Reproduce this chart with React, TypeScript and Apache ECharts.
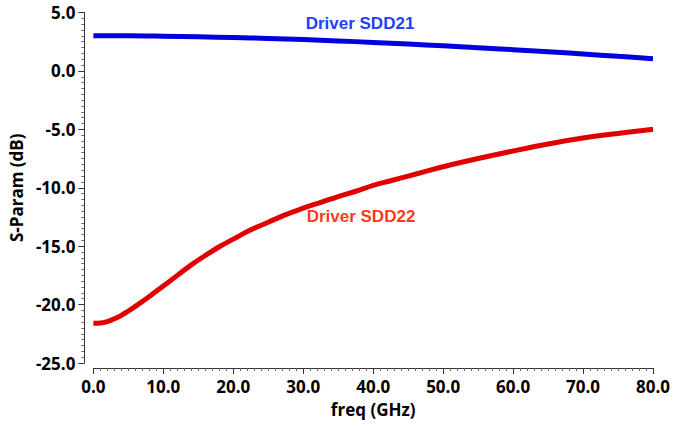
import React, { useEffect, useRef } from "react";
import * as echarts from "echarts";

// Frequency points (GHz) and S-parameter magnitudes (dB)
const freqSdd21 = [0, 5, 10, 15, 20, 25, 30, 35, 40, 45, 50, 55, 60, 65, 70, 75, 80];
const sdd21 = [3.0, 3.0, 2.97, 2.92, 2.86, 2.78, 2.68, 2.57, 2.44, 2.3, 2.15, 1.99, 1.82, 1.64, 1.45, 1.25, 1.05];

const freqSdd22 = [0, 1, 2, 3, 4, 5, 6, 8, 10, 12, 14, 16, 18, 20, 22.5, 25, 27.5, 30, 32.5, 35, 37.5, 40, 42.5, 45, 47.5, 50, 55, 60, 65, 70, 75, 80];
const sdd22 = [-21.6, -21.58, -21.45, -21.22, -20.92, -20.55, -20.15, -19.3, -18.4, -17.5, -16.6, -15.8, -15.05, -14.4, -13.6, -12.95, -12.3, -11.75, -11.25, -10.75, -10.3, -9.8, -9.4, -9.0, -8.6, -8.2, -7.5, -6.85, -6.25, -5.75, -5.35, -5.0];

const seriesNames = ["Driver SDD21", "Driver SDD22"];

const pairs = (xs: number[], ys: number[]) => xs.map((x, i) => [x, ys[i]]);

const tickFont = "'Open Sans', 'Noto Sans', sans-serif";

export default function App() {
  const ref = useRef<HTMLDivElement>(null);

  useEffect(() => {
    if (!ref.current) return;
    const chart = echarts.init(ref.current, undefined, { renderer: "svg" });
    const axisCommon = {
      axisLine: { show: true, onZero: false, lineStyle: { color: "#333", width: 1 } },
      axisTick: { show: true, length: 6, lineStyle: { color: "#333" } },
      minorTick: { show: true, splitNumber: 10, length: 3, lineStyle: { color: "#666" } },
      splitLine: { show: false },
      minorSplitLine: { show: false },
      axisLabel: {
        color: "#000",
        fontFamily: tickFont,
        fontWeight: "bold" as const,
        fontSize: 17,
        formatter: (v: number) => v.toFixed(1),
      },
      nameTextStyle: {
        color: "#000",
        fontFamily: tickFont,
        fontWeight: "bold" as const,
        fontSize: 17,
      },
    };
    chart.setOption({
      animation: false,
      backgroundColor: "#fff",
      grid: { left: 87, right: 17, top: 12.5, bottom: 63, containLabel: false },
      xAxis: {
        ...axisCommon,
        type: "value",
        min: 0,
        max: 80,
        interval: 10,
        offset: 5,
        name: "freq (GHz)",
        nameLocation: "middle",
        nameGap: 33,
        axisLabel: { ...axisCommon.axisLabel, margin: 10 },
      },
      yAxis: {
        ...axisCommon,
        type: "value",
        min: -25,
        max: 5,
        interval: 5,
        offset: 9,
        name: "S-Param (dB)",
        nameLocation: "middle",
        nameGap: 55,
        axisLabel: { ...axisCommon.axisLabel, margin: 9 },
      },
      series: [
        {
          name: seriesNames[0],
          type: "line",
          smooth: 0.4,
          showSymbol: false,
          data: pairs(freqSdd21, sdd21),
          lineStyle: { color: "#0000e0", width: 5 },
        },
        {
          name: seriesNames[1],
          type: "line",
          smooth: 0.4,
          showSymbol: false,
          data: pairs(freqSdd22, sdd22),
          lineStyle: { color: "#e00000", width: 5 },
        },
      ],
      graphic: [
        {
          type: "text",
          x: 360,
          y: 23,
          style: {
            text: seriesNames[0],
            fill: "#2040ff",
            font: "bold 17px 'Liberation Sans', Arial, sans-serif",
            align: "center",
            verticalAlign: "middle",
          },
        },
        {
          type: "text",
          x: 361,
          y: 216,
          style: {
            text: seriesNames[1],
            fill: "#ff3a1f",
            font: "bold 17px 'Liberation Sans', Arial, sans-serif",
            align: "center",
            verticalAlign: "middle",
          },
        },
      ],
    });
    return () => chart.dispose();
  }, []);

  return (
    <div
      ref={ref}
      style={{ position: "fixed", left: 0, top: 0, width: 673, height: 426, background: "#fff" }}
    />
  );
}
